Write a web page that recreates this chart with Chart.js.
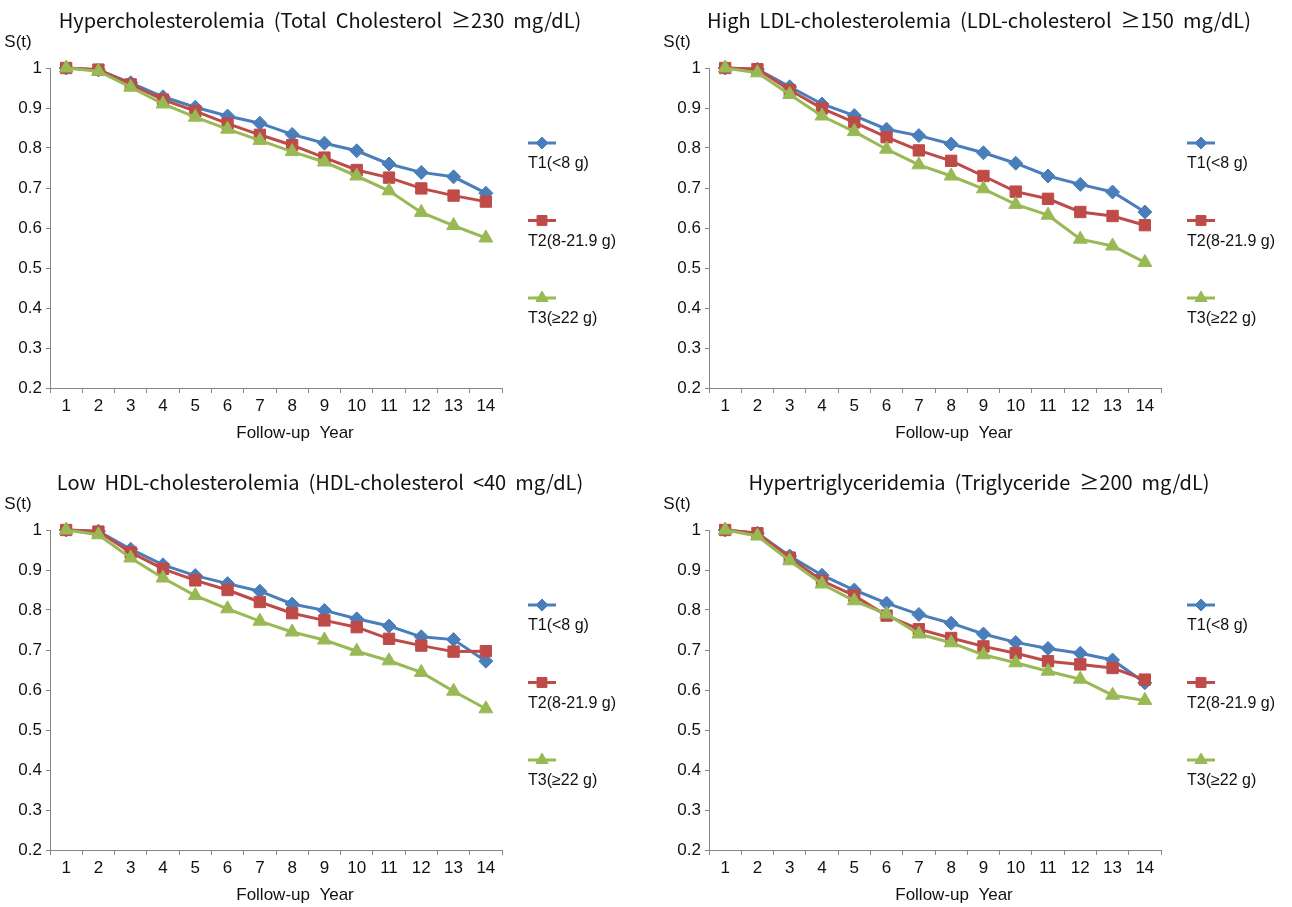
<!DOCTYPE html>
<html>
<head>
<meta charset="utf-8">
<title>Survival curves by tertile</title>
<script src="https://cdn.jsdelivr.net/npm/chart.js@4.4.1/dist/chart.umd.min.js"></script>
<style>
    html, body { margin: 0; padding: 0; background: #fff; }
    #wrap { position: relative; width: 1292px; height: 907px; background: #fff; overflow: hidden; }
    #wrap canvas { position: absolute; }
</style>
</head>
<body>
<div id="wrap">
    <canvas id="chartHc"  width="633" height="445" style="left:0;top:0;"></canvas>
    <canvas id="chartLdl" width="633" height="445" style="left:659px;top:0;"></canvas>
    <canvas id="chartHdl" width="633" height="445" style="left:0;top:462px;"></canvas>
    <canvas id="chartTg"  width="633" height="445" style="left:659px;top:462px;"></canvas>
</div>
<script>
// data
const years = ["1","2","3","4","5","6","7","8","9","10","11","12","13","14"];
const groupLabels = ["T1(<8 g)", "T2(8-21.9 g)", "T3(\u226522 g)"];

// Hypercholesterolemia
const hcT1 = [1.000, 0.995, 0.963, 0.928, 0.902, 0.880, 0.862, 0.834, 0.812, 0.793, 0.760, 0.739, 0.728, 0.687];
const hcT2 = [1.000, 0.996, 0.959, 0.921, 0.892, 0.861, 0.833, 0.807, 0.776, 0.745, 0.726, 0.699, 0.681, 0.666];
const hcT3 = [1.000, 0.992, 0.952, 0.910, 0.877, 0.847, 0.819, 0.791, 0.765, 0.730, 0.693, 0.639, 0.606, 0.575];

// High LDL-cholesterolemia
const ldlT1 = [1.000, 0.997, 0.953, 0.910, 0.881, 0.847, 0.831, 0.810, 0.788, 0.762, 0.730, 0.709, 0.690, 0.640];
const ldlT2 = [1.000, 0.997, 0.945, 0.899, 0.864, 0.827, 0.794, 0.768, 0.730, 0.691, 0.673, 0.640, 0.630, 0.607];
const ldlT3 = [1.000, 0.988, 0.934, 0.880, 0.841, 0.797, 0.758, 0.730, 0.698, 0.659, 0.632, 0.572, 0.555, 0.514];

// Low HDL-cholesterolemia
const hdlT1 = [1.000, 0.997, 0.952, 0.913, 0.886, 0.866, 0.847, 0.815, 0.799, 0.778, 0.760, 0.733, 0.726, 0.672];
const hdlT2 = [1.000, 0.996, 0.944, 0.903, 0.874, 0.850, 0.820, 0.792, 0.774, 0.757, 0.728, 0.711, 0.696, 0.697];
const hdlT3 = [1.000, 0.988, 0.930, 0.880, 0.836, 0.803, 0.772, 0.745, 0.725, 0.697, 0.673, 0.644, 0.597, 0.553];

// Hypertriglyceridemia
const tgT1 = [1.000, 0.992, 0.935, 0.887, 0.850, 0.817, 0.789, 0.767, 0.740, 0.719, 0.704, 0.692, 0.675, 0.618];
const tgT2 = [1.000, 0.992, 0.931, 0.873, 0.836, 0.786, 0.752, 0.730, 0.709, 0.692, 0.672, 0.664, 0.655, 0.626];
const tgT3 = [1.000, 0.985, 0.923, 0.865, 0.823, 0.790, 0.740, 0.718, 0.688, 0.668, 0.647, 0.627, 0.587, 0.574];

const groupColors  = ["#4A7EBB", "#BE4B48", "#98B954"];
const groupMarkers = ["rectRot", "rect", "triangle"];
const markerSizes  = [7, 8, 8];

const tickFont = { family: "'Liberation Sans Narrow', 'Liberation Sans', Arial, sans-serif", size: 17 };
const axisGrey = "#868686";

/* -------- text + legend drawn around each panel -------- */

const panelText = {
    id: "panelText",
    afterDraw(chart, args, opts) {
        const ctx  = chart.ctx;
        const area = chart.chartArea;
        ctx.save();
        ctx.fillStyle = "#111";
        ctx.textBaseline = "middle";

        // title
        ctx.textAlign = "center";
        ctx.font = "20px 'Noto Sans CJK KR', 'Noto Sans', sans-serif";
        ctx.fillText(opts.title, 320, 20);

        // S(t) and x title
        ctx.font = "17px 'Liberation Sans Narrow', 'Liberation Sans', Arial, sans-serif";
        ctx.fillText("S(t)", 18, 42);
        ctx.fillText("Follow-up  Year", 295, 433);

        // legend on the right, text under each sample
        chart.data.datasets.forEach((ds, i) => {
            const x0 = area.right + 26;
            const ly = area.top + 75 + i * 77.5;
            ctx.strokeStyle = ds.borderColor;
            ctx.lineWidth = 3;
            ctx.beginPath();
            ctx.moveTo(x0, ly);
            ctx.lineTo(x0 + 28, ly);
            ctx.stroke();

            ctx.fillStyle = ds.backgroundColor;
            ctx.lineWidth = 1;
            Chart.helpers.drawPoint(ctx, {
                pointStyle: ds.pointStyle,
                radius: ds.pointRadius - 1,
                rotation: 0,
                borderWidth: 1
            }, x0 + 14, ly);

            ctx.fillStyle = "#111";
            ctx.textAlign = "left";
            ctx.font = "16px 'Liberation Sans Narrow', 'Liberation Sans', Arial, sans-serif";
            ctx.fillText(ds.label, x0, ly + 21);
        });
        ctx.restore();
    }
};

function makeChart(id, title, series) {
    return new Chart(document.getElementById(id), {
        type: "line",
        data: {
            labels: years,
            datasets: series.map((vals, i) => ({
                label: groupLabels[i],
                data: vals,
                borderColor: groupColors[i],
                backgroundColor: groupColors[i],
                borderWidth: 3,
                pointStyle: groupMarkers[i],
                pointRadius: markerSizes[i],
                pointBorderWidth: 1,
                pointBorderColor: groupColors[i],
                tension: 0,
                order: 3 - i,
                clip: false
            }))
        },
        options: {
            responsive: false,
            animation: false,
            events: [],
            layout: { padding: { top: 68, left: 0, right: 131, bottom: 0 } },
            plugins: {
                legend: { display: false },
                tooltip: { enabled: false },
                title: { display: false },
                panelText: { title: title }
            },
            scales: {
                x: {
                    type: "category",
                    offset: true,
                    grid: { offset: true, drawOnChartArea: false, tickLength: 5, color: axisGrey },
                    border: { color: axisGrey, width: 1 },
                    ticks: { font: tickFont, color: "#111", padding: 3, autoSkip: false, maxRotation: 0 },
                    afterFit(scale) { scale.height = 57; }
                },
                y: {
                    min: 0.2,
                    max: 1,
                    grid: { drawOnChartArea: false, tickLength: 4, color: axisGrey },
                    border: { color: axisGrey, width: 1 },
                    ticks: {
                        stepSize: 0.1,
                        font: tickFont,
                        color: "#111",
                        padding: 4,
                        callback: v => String(Math.round(v * 10) / 10)
                    },
                    afterFit(scale) { scale.width = 50; }
                }
            }
        },
        plugins: [panelText]
    });
}

makeChart("chartHc",  "Hypercholesterolemia  (Total  Cholesterol  \u2265230  mg/dL)", [hcT1, hcT2, hcT3]);
makeChart("chartLdl", "High  LDL-cholesterolemia  (LDL-cholesterol  \u2265150  mg/dL)", [ldlT1, ldlT2, ldlT3]);
makeChart("chartHdl", "Low  HDL-cholesterolemia  (HDL-cholesterol  <40  mg/dL)", [hdlT1, hdlT2, hdlT3]);
makeChart("chartTg",  "Hypertriglyceridemia  (Triglyceride  \u2265200  mg/dL)", [tgT1, tgT2, tgT3]);
</script>
</body>
</html>
